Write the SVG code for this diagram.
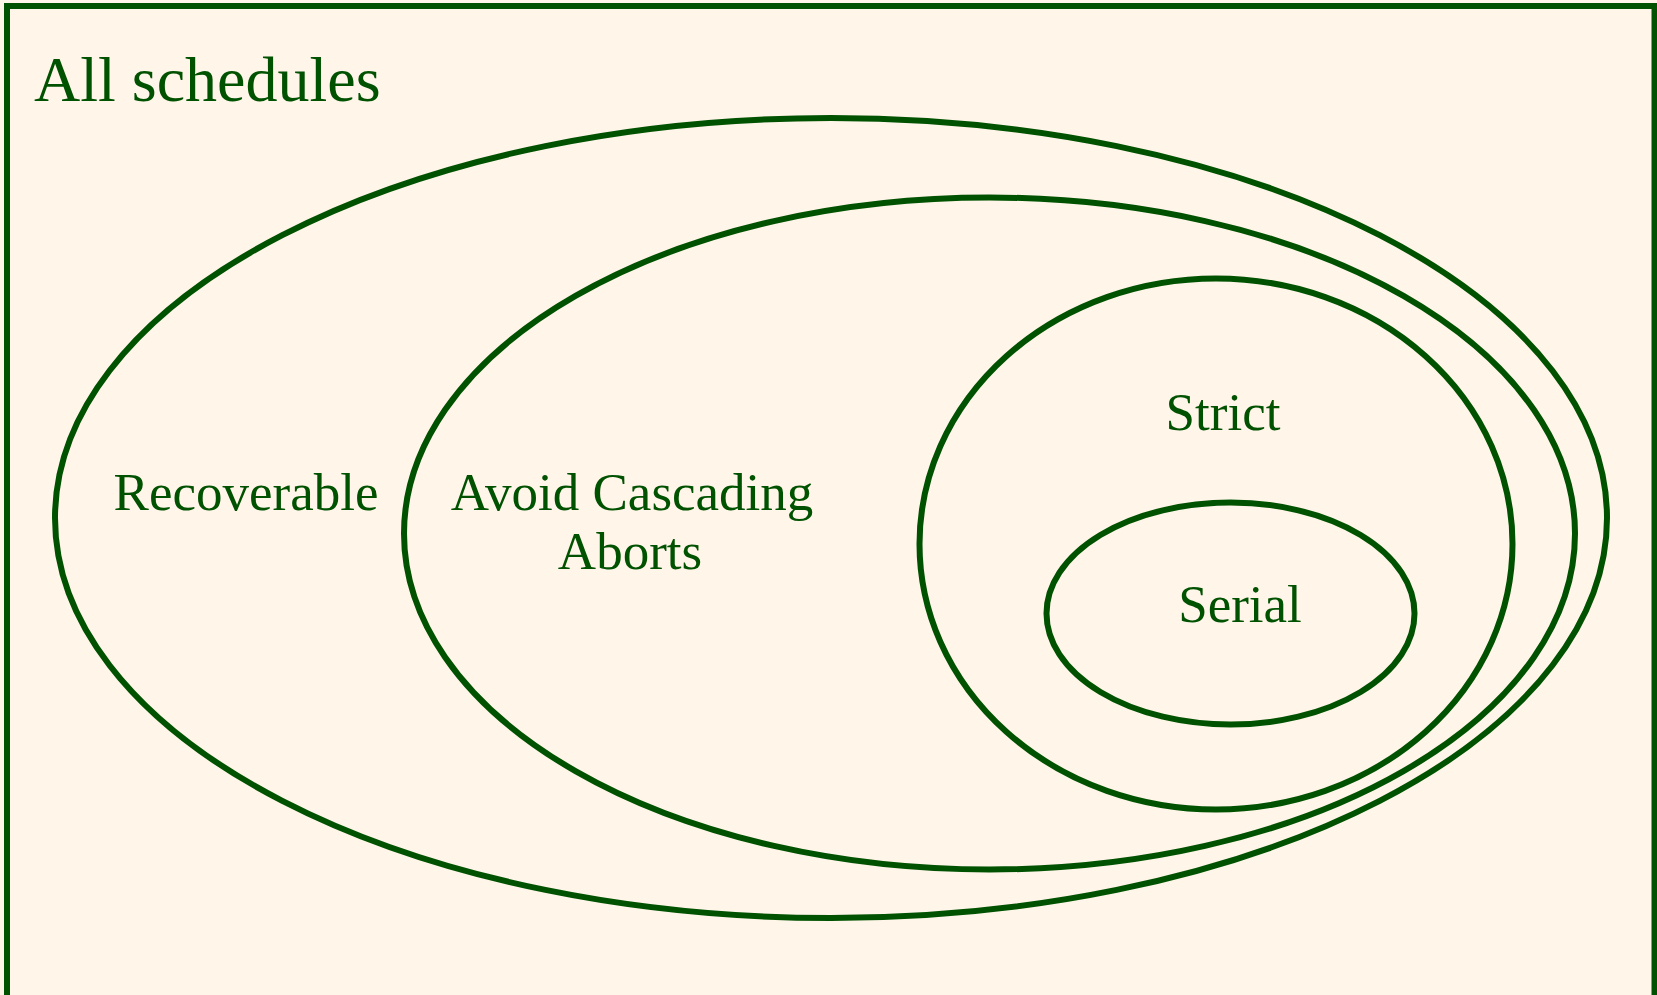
<svg xmlns="http://www.w3.org/2000/svg" width="1657" height="995" viewBox="0 0 1657 995">
  <style>
    .set { fill: none; stroke: #005200; stroke-width: 6; }
    .lbl { font-family: "Liberation Serif", "Times New Roman", serif; fill: #005200; font-size: 53px; text-anchor: middle; }
  </style>
  <rect x="0" y="0" width="1657" height="995" fill="#FFF5E9"/>
  <g id="all-schedules">
    <rect x="7" y="6" width="1647.5" height="1000" fill="#FFF5E9" stroke="#005200" stroke-width="6"/>
    <text x="34" y="101" class="lbl" style="font-size:64px;text-anchor:start">All schedules</text>
  </g>
  <g id="recoverable">
    <ellipse class="set" cx="831" cy="518" rx="776" ry="400"/>
    <text x="246" y="510" class="lbl">Recoverable</text>
  </g>
  <g id="avoid-cascading-aborts">
    <ellipse class="set" cx="989.5" cy="533.5" rx="585.5" ry="336"/>
    <text x="632" y="510" class="lbl">Avoid Cascading</text>
    <text x="630" y="569" class="lbl">Aborts</text>
  </g>
  <g id="strict">
    <ellipse class="set" cx="1216" cy="544" rx="296.5" ry="265.5"/>
    <text x="1223" y="430" class="lbl">Strict</text>
  </g>
  <g id="serial">
    <ellipse class="set" cx="1230.5" cy="613.5" rx="184" ry="111"/>
    <text x="1240" y="622" class="lbl">Serial</text>
  </g>
  <g id="connectors"/>
</svg>
